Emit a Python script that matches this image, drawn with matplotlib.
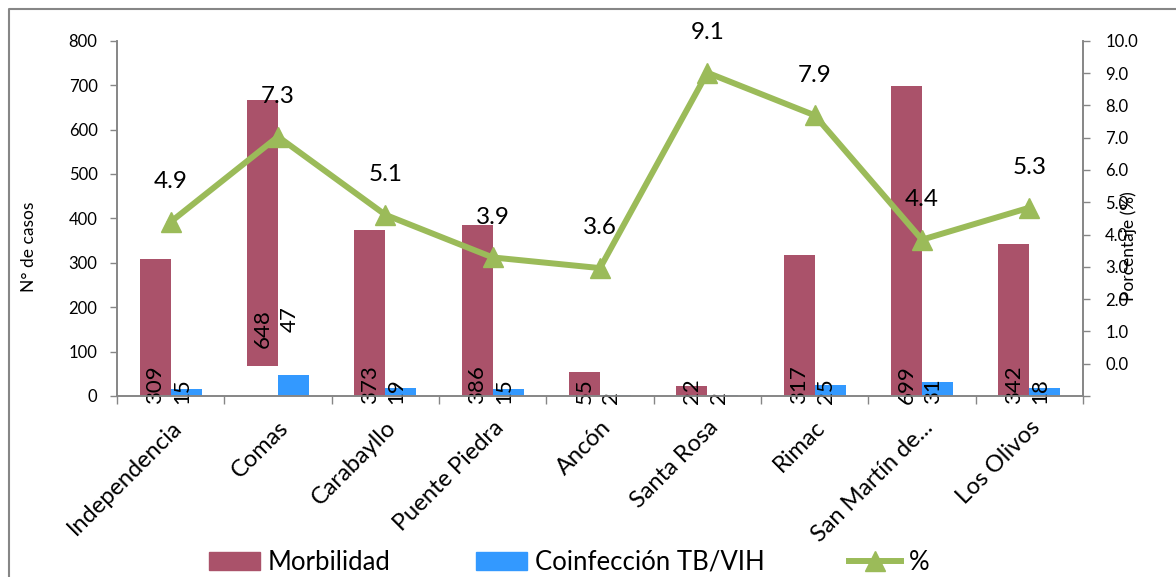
import numpy as np
import matplotlib
matplotlib.use("Agg")
import matplotlib.pyplot as plt
from matplotlib.lines import Line2D

plt.rcParams['font.family'] = ['Lato', 'DejaVu Sans']

distritos = ['Independencia', 'Comas', 'Carabayllo', 'Puente Piedra', 'Ancón',
             'Santa Rosa', 'Rimac', 'San Martín de...', 'Los Olivos']
morbilidad = [309, 648, 373, 386, 55, 22, 317, 699, 342]
coinfeccion = [15, 47, 19, 15, 2, 2, 25, 31, 18]
porcentaje = [4.9, 7.3, 5.1, 3.9, 3.6, 9.1, 7.9, 4.4, 5.3]

# the Comas bar is drawn floating in the original picture
morb_bar_base = [0, 68, 0, 0, 0, 0, 0, 0, 0]
morb_bar_top = [309, 667, 373, 386, 55, 22, 317, 699, 342]

left_ticks = [0, 100, 200, 300, 400, 500, 600, 700, 800]
right_labels = ['10.0', '9.0', '8.0', '7.0', '6.0', '5.0', '4.0', '3.0', '2.0', '1.0', '0.0', '']

c_morb = '#AA526A'
c_coinf = '#3399FF'
c_line = '#9BBB59'
c_axis = '#868686'

W, H = 1176, 577
fig = plt.figure(figsize=(W / 100, H / 100), dpi=100)
ax = fig.add_axes([117 / W, 1 - 396 / H, (1083 - 117) / W, (396 - 40.7) / H])
ax2 = ax.twinx()

x = np.arange(len(distritos))
bw = 0.29
ax.bar(x - bw / 2, np.array(morb_bar_top) - np.array(morb_bar_base), bw,
       bottom=morb_bar_base, color=c_morb, zorder=2)
ax.bar(x + bw / 2, coinfeccion, bw, color=c_coinf, zorder=2)

# bar value labels, rotated, sitting on the baseline
comas_raise = {1: (108, 144)}
for i in range(len(distritos)):
    if i in comas_raise:
        ya, yb = comas_raise[i]
        ax.text(x[i] - bw / 2, ya, str(morbilidad[i]), rotation=90, ha='center',
                va='bottom', fontsize=16, zorder=5)
        ax.text(x[i] + bw / 2 - 0.04, yb, str(coinfeccion[i]), rotation=90, ha='center',
                va='bottom', fontsize=16, zorder=5)
        continue
    ax.annotate(str(morbilidad[i]), (x[i] - bw / 2, 0), xytext=(0, -6),
                textcoords='offset points', rotation=90, ha='center', va='bottom',
                fontsize=16, zorder=5, annotation_clip=False)
    ax.annotate(str(coinfeccion[i]), (x[i] + bw / 2 - 0.04, 0), xytext=(0, -6),
                textcoords='offset points', rotation=90, ha='center', va='bottom',
                fontsize=16, zorder=5, annotation_clip=False)

ax.set_xlim(-0.5, len(distritos) - 0.5)
ax.set_ylim(0, 800)
ax.set_yticks(left_ticks)
ax.set_yticklabels([str(v) for v in left_ticks])
ax.tick_params(axis='y', length=5, width=1, color=c_axis, pad=9, labelsize=12)

ax.set_xticks(x)
ax.set_xticklabels(distritos, rotation=45, ha='right', rotation_mode='anchor', fontsize=17)
ax.set_xticks(np.arange(len(distritos) + 1) - 0.5, minor=True)
ax.tick_params(axis='x', which='major', length=0, pad=15)
ax.tick_params(axis='x', which='minor', length=6, width=1, color=c_axis)

ax2.plot(x, porcentaje, color=c_line, lw=4.3, marker='^', markersize=15, zorder=4)
for i, v in enumerate(porcentaje):
    ax2.annotate(f'{v:.1f}', (x[i], v), xytext=(0, 29), textcoords='offset points',
                 ha='center', va='center', fontsize=17.5, zorder=6)
ax2.set_ylim(0, 10)
ax2.set_yticks(np.linspace(10, 0, 12))
ax2.set_yticklabels(right_labels)
ax2.tick_params(axis='y', length=5, width=1, color=c_axis, pad=11, labelsize=12)

for a in (ax, ax2):
    a.spines['top'].set_visible(False)
    for s in ('left', 'right', 'bottom'):
        a.spines[s].set_color(c_axis)
        a.spines[s].set_linewidth(1.2)
ax.set_zorder(ax2.get_zorder() - 1)
ax.patch.set_visible(True)
ax2.patch.set_visible(False)

fig.text(29 / W, 1 - 247 / H, 'N° de casos', rotation=90, ha='center', va='center', fontsize=12.5)
fig.text(1129 / W, 1 - 246 / H, 'Porcentaje (%)', rotation=90, ha='center', va='center', fontsize=12.5)

handles = [plt.Rectangle((0, 0), 1, 1, color=c_morb),
           plt.Rectangle((0, 0), 1, 1, color=c_coinf),
           Line2D([0], [0], color=c_line, lw=4.3, marker='^', markersize=15)]
fig.legend(handles, ['Morbilidad', 'Coinfección TB/VIH', '%'], loc='center',
           bbox_to_anchor=(569 / W, 1 - 562 / H), ncol=3, frameon=False,
           fontsize=18.5, handlelength=2.0, handletextpad=0.3, columnspacing=3.3)

# outer frame (left and top edges visible in the picture)
fig.add_artist(Line2D([9 / W, 9 / W, 1], [0, 1 - 9 / H, 1 - 9 / H],
                      transform=fig.transFigure, color=c_axis, lw=1.5))

fig.savefig('out.png', dpi=100)
